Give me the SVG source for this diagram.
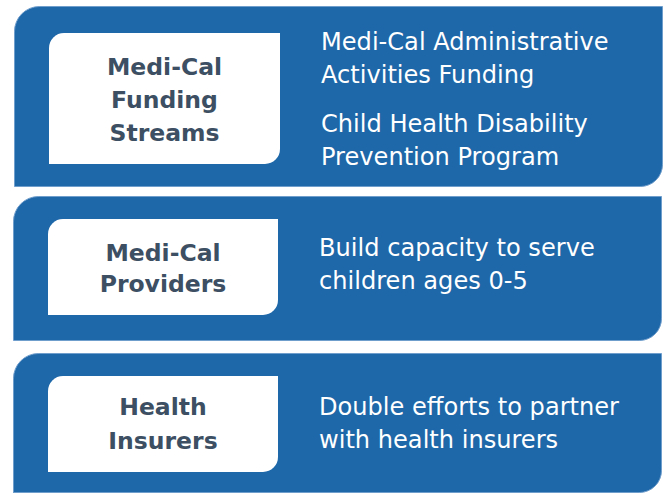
<svg xmlns="http://www.w3.org/2000/svg" width="665" height="493" viewBox="0 0 665 493">
<style>
.panel{fill:#1e67a8;stroke:#6f9dcc;stroke-width:1}
.box{fill:#ffffff}
.lbl{font-family:"DejaVu Sans",Verdana,sans-serif;font-weight:bold;font-size:23.5px;fill:#3c4f63;text-anchor:middle}
.txt{font-family:"DejaVu Sans",Verdana,sans-serif;font-size:24.1px;fill:#ffffff}
</style>
<rect width="665" height="493" fill="#ffffff"/>
<g id="panel1">
<path class="panel" d="M14.5,186.5 V31.5 A25,25 0 0 1 39.5,6.5 H662.5 V164.5 A22,22 0 0 1 640.5,186.5 Z"/>
<path class="box" d="M49,164 V48 A15,15 0 0 1 64,33 H280 V149 A15,15 0 0 1 265,164 Z"/>
<text class="lbl" x="164.5" y="75">Medi-Cal</text>
<text class="lbl" x="164.5" y="108">Funding</text>
<text class="lbl" x="164.5" y="141">Streams</text>
<text class="txt" x="321" y="50">Medi-Cal Administrative</text>
<text class="txt" x="321" y="83">Activities Funding</text>
<text class="txt" x="321" y="132">Child Health Disability</text>
<text class="txt" x="321" y="165">Prevention Program</text>
</g>
<g id="panel2">
<path class="panel" d="M13.5,340.5 V221.5 A25,25 0 0 1 38.5,196.5 H661.5 V318.5 A22,22 0 0 1 639.5,340.5 Z"/>
<path class="box" d="M48,315 V234 A15,15 0 0 1 63,219 H278 V300 A15,15 0 0 1 263,315 Z"/>
<text class="lbl" x="163" y="261">Medi-Cal</text>
<text class="lbl" x="163" y="292">Providers</text>
<text class="txt" x="319" y="256">Build capacity to serve</text>
<text class="txt" x="319" y="289">children ages 0-5</text>
</g>
<g id="panel3">
<path class="panel" d="M13.5,495 V378.5 A25,25 0 0 1 38.5,353.5 H661.5 V470.5 A22,22 0 0 1 639.5,492.5 H13.5"/>
<path class="box" d="M48,472 V391 A15,15 0 0 1 63,376 H278 V457 A15,15 0 0 1 263,472 Z"/>
<text class="lbl" x="163" y="415">Health</text>
<text class="lbl" x="163" y="449">Insurers</text>
<text class="txt" x="319" y="415">Double efforts to partner</text>
<text class="txt" x="319" y="448">with health insurers</text>
</g>
<g id="connectors"></g>
</svg>
